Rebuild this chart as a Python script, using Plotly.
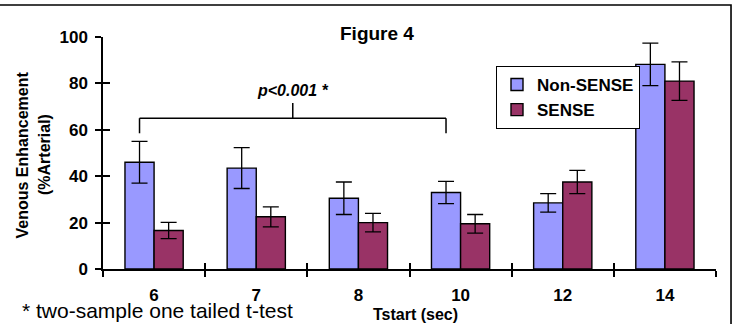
import plotly.graph_objects as go

categories = ["6", "7", "8", "10", "12", "14"]
non_sense = [46, 43.5, 30.5, 33, 28.5, 88.2]
non_sense_err = [9, 8.8, 7, 4.8, 4, 9.2]
sense = [16.6, 22.5, 20, 19.5, 37.5, 81]
sense_err = [3.5, 4.3, 4, 4, 5, 8.3]

BLUE = "#9999FF"
RED = "#993366"
FONT = "Liberation Sans, Arial, sans-serif"
BARGAP = 0.43

# significance bracket between the Non-SENSE bars of these categories
bracket_from, bracket_to = "6", "10"
bracket_y, bracket_drop, bracket_rise = 65, 6.5, 6.5
p_text = "<i>p<0.001 *</i>"

fig = go.Figure()
fig.add_trace(go.Bar(
    x=categories, y=non_sense, name="Non-SENSE",
    marker=dict(color=BLUE, line=dict(color="black", width=1.4)),
    error_y=dict(type="data", array=non_sense_err, color="black", thickness=1.3, width=8),
))
fig.add_trace(go.Bar(
    x=categories, y=sense, name="SENSE",
    marker=dict(color=RED, line=dict(color="black", width=1.4)),
    error_y=dict(type="data", array=sense_err, color="black", thickness=1.3, width=8),
))
# invisible trace to carry the overlay axes used for the inner halves of the ticks
fig.add_trace(go.Scatter(x=[None], y=[None], xaxis="x2", yaxis="y2",
                         showlegend=False, hoverinfo="skip"))

off = (1 - BARGAP) / 4
xa = categories.index(bracket_from) - off
xb = categories.index(bracket_to) - off
xm = (xa + xb) / 2
line = dict(color="black", width=1.5)
shapes = [
    dict(type="line", xref="x", yref="y", x0=xa, x1=xb, y0=bracket_y, y1=bracket_y, line=line),
    dict(type="line", xref="x", yref="y", x0=xa, x1=xa, y0=bracket_y, y1=bracket_y - bracket_drop, line=line),
    dict(type="line", xref="x", yref="y", x0=xb, x1=xb, y0=bracket_y, y1=bracket_y - bracket_drop, line=line),
    dict(type="line", xref="x", yref="y", x0=xm, x1=xm, y0=bracket_y, y1=bracket_y + bracket_rise, line=line),
    # outer frame (cropped on left and bottom)
    dict(type="rect", xref="paper", yref="paper", x0=-0.5, x1=1.0245, y0=-0.6, y1=1.138,
         line=dict(color="black", width=1.6), layer="above"),
]

annotations = [
    dict(text=p_text, x=xm, y=77, xref="x", yref="y", showarrow=False,
         xanchor="center", yanchor="middle",
         font=dict(family=FONT, size=16, color="black", weight="bold")),
    dict(text="Figure 4", x=377, y=34, showarrow=False,
         font=dict(family=FONT, size=19, color="black", weight="bold")),
    dict(text="* two-sample one tailed t-test", x=20, y=310, showarrow=False,
         xanchor="left",
         font=dict(family=FONT, size=21, color="black")),
    dict(text="Tstart (sec)", x=416, y=314, showarrow=False,
         font=dict(family=FONT, size=16, color="black", weight="bold")),
    dict(text="Venous Enhancement", x=21.5, y=155, textangle=-90, showarrow=False,
         font=dict(family=FONT, size=16, color="black", weight="bold")),
    dict(text="(%Arterial)", x=44, y=155, textangle=-90, showarrow=False,
         font=dict(family=FONT, size=16, color="black", weight="bold")),
]
# convert pixel-positioned annotations to paper coordinates
L, R, T, B = 103, 20, 37, 55
W, H = 736 - L - R, 324 - T - B
for a in annotations[1:]:
    a["xref"], a["yref"] = "paper", "paper"
    a["x"] = (a["x"] - L) / W
    a["y"] = (324 - B - a["y"]) / H
    a.setdefault("xanchor", "center")
    a.setdefault("yanchor", "middle")

fig.update_layout(
    width=736, height=324,
    margin=dict(l=L, r=R, t=T, b=B, autoexpand=False),
    paper_bgcolor="white", plot_bgcolor="white",
    barmode="group", bargap=BARGAP, bargroupgap=0,
    font=dict(family=FONT, color="black"),
    showlegend=True,
    legend=dict(x=(496 - L) / W, y=(324 - B - 66) / H, xanchor="left", yanchor="top",
                bgcolor="white", bordercolor="black", borderwidth=1,
                font=dict(family=FONT, size=17, color="black", weight="bold"),
                itemwidth=30, tracegroupgap=2),
    xaxis=dict(type="category", categoryarray=categories, range=[-0.5, 5.5],
               automargin=False,
               showline=True, linecolor="black", linewidth=1.5,
               ticks="outside", ticklen=6, tickwidth=1.5, tickcolor="black",
               tickson="boundaries", showgrid=False,
               tickfont=dict(family=FONT, size=17, color="black", weight="bold"),
               ticklabelstandoff=10),
    yaxis=dict(range=[0, 100], dtick=20, showline=True, linecolor="black", linewidth=1.5,
               automargin=False,
               ticks="outside", ticklen=6, tickwidth=1.5, tickcolor="black",
               showgrid=False, zeroline=False,
               tickfont=dict(family=FONT, size=17, color="black", weight="bold"),
               ticklabelstandoff=4),
    xaxis2=dict(overlaying="x", range=[-0.5, 5.5], tickmode="array", automargin=False,
                tickvals=[i - 0.5 for i in range(len(categories) + 1)],
                ticks="inside", ticklen=6, tickwidth=1.5, tickcolor="black",
                showticklabels=False, showgrid=False, zeroline=False, showline=False),
    yaxis2=dict(overlaying="y", range=[0, 100], dtick=20, automargin=False,
                ticks="inside", ticklen=7, tickwidth=1.5, tickcolor="black",
                showticklabels=False, showgrid=False, zeroline=False, showline=False),
    shapes=shapes,
    annotations=annotations,
)

fig.write_html("out.html", config={"displayModeBar": False},
               post_script="document.body.style.margin='0';document.body.style.padding='0';")
